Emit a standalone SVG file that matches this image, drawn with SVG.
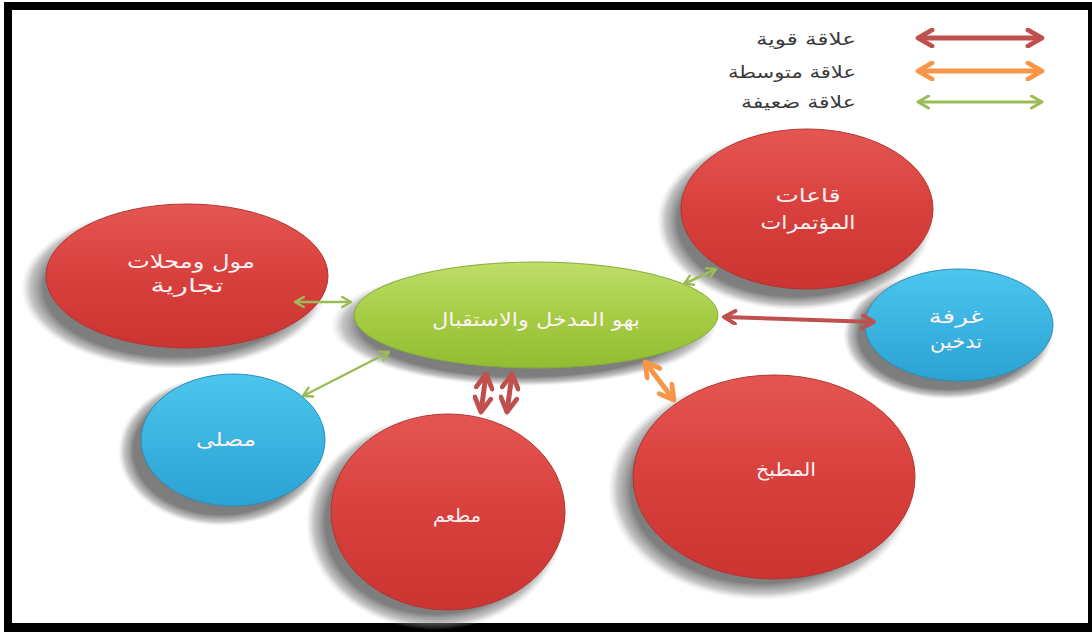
<svg xmlns="http://www.w3.org/2000/svg" width="1092" height="632" viewBox="0 0 1092 632">
<defs>
<style>
.lbl{font-family:"DejaVu Sans","Noto Sans",sans-serif;font-size:19px;fill:#fdf2f2;text-anchor:middle}
.leg{font-family:"DejaVu Sans","Noto Sans",sans-serif;font-size:17px;fill:#3a3a3a;text-anchor:end}
.red{fill:url(#gRed);stroke:#b33532;stroke-width:1}
.blue{fill:url(#gBlue);stroke:#2a8fb8;stroke-width:1}
.green{fill:url(#gGreen);stroke:#86ad3a;stroke-width:1}
.shd{fill:url(#gShd)}
.cr{stroke:#c0504d;fill:none;marker-start:url(#mr);marker-end:url(#mr)}
.co{stroke:#f79646;fill:none;marker-start:url(#mo);marker-end:url(#mo)}
.cg{stroke:#9bbb59;fill:none;marker-start:url(#mg);marker-end:url(#mg)}
</style>
<linearGradient id="gRed" x1="0" y1="0" x2="0" y2="1">
<stop offset="0" stop-color="#e45652"/>
<stop offset="0.5" stop-color="#d8403d"/>
<stop offset="1" stop-color="#cc3431"/>
</linearGradient>
<linearGradient id="gBlue" x1="0" y1="0" x2="0" y2="1">
<stop offset="0" stop-color="#4cc6ee"/>
<stop offset="1" stop-color="#2ba2d4"/>
</linearGradient>
<linearGradient id="gGreen" x1="0" y1="0" x2="0" y2="1">
<stop offset="0" stop-color="#bedd6a"/>
<stop offset="0.5" stop-color="#a6cc45"/>
<stop offset="1" stop-color="#91bd32"/>
</linearGradient>
<radialGradient id="gShd" cx="0.5" cy="0.5" r="0.5">
<stop offset="0" stop-color="#606060" stop-opacity="0.9"/>
<stop offset="0.85" stop-color="#686868" stop-opacity="0.85"/>
<stop offset="0.94" stop-color="#8a8a8a" stop-opacity="0.5"/>
<stop offset="1" stop-color="#bbbbbb" stop-opacity="0"/>
</radialGradient>
<marker id="mr" viewBox="0 0 10 10" refX="8.5" refY="5" markerWidth="4" markerHeight="4" orient="auto-start-reverse" markerUnits="strokeWidth">
<path d="M1.5,1 L8.5,5 L1.5,9" fill="none" stroke="#c0504d" stroke-width="2.4" stroke-linecap="round" stroke-linejoin="round"/>
</marker>
<marker id="mo" viewBox="0 0 10 10" refX="8.5" refY="5" markerWidth="4" markerHeight="4" orient="auto-start-reverse" markerUnits="strokeWidth">
<path d="M1.5,1 L8.5,5 L1.5,9" fill="none" stroke="#f79646" stroke-width="2.4" stroke-linecap="round" stroke-linejoin="round"/>
</marker>
<marker id="mg" viewBox="0 0 10 10" refX="8.5" refY="5" markerWidth="5" markerHeight="5" orient="auto-start-reverse" markerUnits="strokeWidth">
<path d="M1.5,1 L8.5,5 L1.5,9" fill="none" stroke="#9bbb59" stroke-width="2" stroke-linecap="round" stroke-linejoin="round"/>
</marker>
</defs>

<rect x="0" y="0" width="1092" height="632" fill="#ffffff"/>
<rect x="4" y="2" width="1088" height="630" fill="#000000"/>
<rect x="12" y="10" width="1076" height="613" fill="#ffffff"/>

<g id="legend">
<text class="leg" x="856" y="45" textLength="100" lengthAdjust="spacingAndGlyphs">علاقة قوية</text>
<text class="leg" x="856" y="78" textLength="128" lengthAdjust="spacingAndGlyphs">علاقة متوسطة</text>
<text class="leg" x="856" y="108" textLength="115" lengthAdjust="spacingAndGlyphs">علاقة ضعيفة</text>
<line class="cr" x1="918" y1="38" x2="1042" y2="38" stroke-width="5"/>
<line class="co" x1="918" y1="71" x2="1042" y2="71" stroke-width="5"/>
<line class="cg" x1="918" y1="102" x2="1042" y2="102" stroke-width="3"/>
</g>

<g id="node-conference">
<ellipse class="shd" cx="795" cy="221" rx="138" ry="89"/>
<ellipse class="red" cx="807" cy="209" rx="126" ry="80"/>
<text class="lbl" x="808" y="202" textLength="65" lengthAdjust="spacingAndGlyphs">قاعات</text>
<text class="lbl" x="808" y="229" textLength="95" lengthAdjust="spacingAndGlyphs">المؤتمرات</text>
</g>
<g id="node-smoking">
<ellipse class="shd" cx="948" cy="335" rx="105" ry="64"/>
<ellipse class="blue" cx="959" cy="325" rx="94" ry="56"/>
<text class="lbl" x="956" y="323" textLength="55" lengthAdjust="spacingAndGlyphs">غرفة</text>
<text class="lbl" x="956" y="348" textLength="52" lengthAdjust="spacingAndGlyphs">تدخين</text>
</g>
<g id="node-mall">
<ellipse class="shd" cx="174" cy="288" rx="153" ry="81"/>
<ellipse class="red" cx="187" cy="276" rx="141" ry="72"/>
<text class="lbl" x="191" y="268" textLength="128" lengthAdjust="spacingAndGlyphs">مول ومحلات</text>
<text class="lbl" x="187" y="292" textLength="73" lengthAdjust="spacingAndGlyphs">تجارية</text>
</g>
<g id="node-prayer">
<ellipse class="shd" cx="221" cy="451" rx="103" ry="75"/>
<ellipse class="blue" cx="233" cy="440" rx="92" ry="66"/>
<text class="lbl" x="226" y="446" textLength="60" lengthAdjust="spacingAndGlyphs">مصلى</text>
</g>
<g id="node-restaurant">
<ellipse class="shd" cx="435" cy="523" rx="129" ry="107"/>
<ellipse class="red" cx="448" cy="512" rx="117" ry="98"/>
<text class="lbl" x="457" y="522" textLength="48" lengthAdjust="spacingAndGlyphs">مطعم</text>
</g>
<g id="node-kitchen">
<ellipse class="shd" cx="761" cy="489" rx="153" ry="111"/>
<ellipse class="red" cx="774" cy="477" rx="141" ry="102"/>
<text class="lbl" x="786" y="476" textLength="60" lengthAdjust="spacingAndGlyphs">المطبخ</text>
</g>
<g id="node-lobby">
<ellipse class="shd" cx="524" cy="325" rx="193" ry="61"/>
<ellipse class="green" cx="536" cy="315" rx="182" ry="53"/>
<text class="lbl" x="536" y="326" textLength="208" lengthAdjust="spacingAndGlyphs">بهو المدخل والاستقبال</text>
</g>

<g id="connectors">
<line class="cg" x1="295" y1="302" x2="351" y2="302" stroke-width="2.5"/>
<line class="cg" x1="303" y1="396" x2="389" y2="352" stroke-width="2.5"/>
<line class="cg" x1="684" y1="284" x2="716" y2="269" stroke-width="2.5"/>
<line class="cr" x1="724" y1="317" x2="874" y2="322" stroke-width="4"/>
<line class="cr" x1="486" y1="374" x2="481" y2="412" stroke-width="5"/>
<line class="cr" x1="512" y1="374" x2="507" y2="412" stroke-width="5"/>
<line class="co" x1="645" y1="362" x2="674" y2="400" stroke-width="5"/>
</g>
</svg>
